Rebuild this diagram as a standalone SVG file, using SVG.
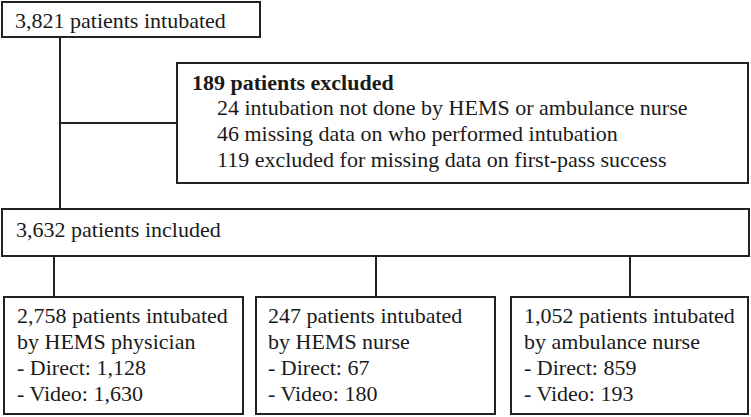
<svg xmlns="http://www.w3.org/2000/svg" width="751" height="417" viewBox="0 0 751 417">
<style>
  .box { fill: #ffffff; stroke: #222222; stroke-width: 2; }
  .ln { stroke: #222222; stroke-width: 2; fill: none; }
  text { font-family: "Liberation Serif", "Times New Roman", serif; font-size: 22px; fill: #1a1a1a; }
  .b { font-weight: bold; }
</style>
<rect width="751" height="417" fill="#ffffff"/>
<g id="connectors">
  <line class="ln" x1="60" y1="37" x2="60" y2="209"/>
  <line class="ln" x1="60" y1="123" x2="177" y2="123"/>
  <line class="ln" x1="54" y1="256" x2="54" y2="297"/>
  <line class="ln" x1="376" y1="256" x2="376" y2="297"/>
  <line class="ln" x1="630" y1="256" x2="630" y2="297"/>
</g>
<g id="intubated">
  <rect class="box" x="2" y="2" width="258" height="35"/>
  <text x="15" y="28">3,821 patients intubated</text>
</g>
<g id="excluded">
  <rect class="box" x="177" y="63" width="571" height="120"/>
  <text class="b" x="192" y="90">189 patients excluded</text>
  <text x="217" y="115">24 intubation not done by HEMS or ambulance nurse</text>
  <text x="217" y="141">46 missing data on who performed intubation</text>
  <text x="217" y="167">119 excluded for missing data on first-pass success</text>
</g>
<g id="included">
  <rect class="box" x="2" y="209" width="747" height="47"/>
  <text x="16" y="237">3,632 patients included</text>
</g>
<g id="physician">
  <rect class="box" x="4" y="297" width="239" height="117"/>
  <text x="17" y="323">2,758 patients intubated</text>
  <text x="17" y="349">by HEMS physician</text>
  <text x="17" y="375">- Direct: 1,128</text>
  <text x="17" y="401">- Video: 1,630</text>
</g>
<g id="hemsnurse">
  <rect class="box" x="256" y="297" width="239" height="117"/>
  <text x="268" y="323">247 patients intubated</text>
  <text x="268" y="349">by HEMS nurse</text>
  <text x="268" y="375">- Direct: 67</text>
  <text x="268" y="401">- Video: 180</text>
</g>
<g id="ambulancenurse">
  <rect class="box" x="511" y="297" width="237" height="117"/>
  <text x="524" y="323">1,052 patients intubated</text>
  <text x="524" y="349">by ambulance nurse</text>
  <text x="524" y="375">- Direct: 859</text>
  <text x="524" y="401">- Video: 193</text>
</g>
</svg>
